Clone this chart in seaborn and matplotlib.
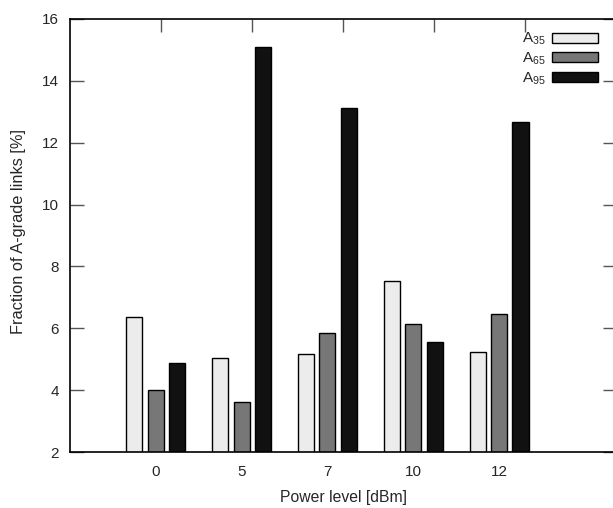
import matplotlib
matplotlib.use("Agg")
import matplotlib.pyplot as plt
import seaborn as sns
import pandas as pd
import numpy as np

power_levels = ["0", "5", "7", "10", "12"]
series_names = ["A$_{35}$", "A$_{65}$", "A$_{95}$"]
a35 = [6.36, 5.05, 5.18, 7.54, 5.23]
a65 = [3.99, 3.63, 5.85, 6.15, 6.46]
a95 = [4.87, 15.09, 13.12, 5.57, 12.67]
colors = ["#ececec", "#777777", "#111111"]

rows = []
for name, vals in zip(series_names, [a35, a65, a95]):
    for p, v in zip(power_levels, vals):
        rows.append({"power": p, "series": name, "value": v})
df = pd.DataFrame(rows)

sns.set_style("ticks")
plt.rcParams["font.family"] = ["Liberation Sans", "DejaVu Sans"]
plt.rcParams["mathtext.fontset"] = "custom"
plt.rcParams["mathtext.rm"] = "Liberation Sans"
plt.rcParams["mathtext.it"] = "Liberation Sans"

FS = 11
fig = plt.figure(figsize=(6.13, 5.08), dpi=100)
W, H = 613, 508
l, r, t, b = 70, 617, 19, 452
ax = fig.add_axes([l / W, 1 - b / H, (r - l) / W, (b - t) / H])

sns.barplot(data=df, x="power", y="value", hue="series", order=power_levels,
            hue_order=series_names, palette=colors, width=0.75, gap=0.25,
            edgecolor="black", linewidth=1.0, saturation=1, ax=ax)

ax.set_xlim(-1, 5.375)
ax.set_ylim(2, 16)
ax.set_yticks(np.arange(2, 17, 2))
ax.tick_params(axis="y", direction="in", length=10, width=1, color="#555555",
               left=True, right=True, labelsize=FS, pad=8)
ax.tick_params(axis="x", direction="in", length=0, labelsize=FS, pad=9)
for s in ax.spines.values():
    s.set_linewidth(1.2)
    s.set_color("black")

# mirrored top ticks
sec = ax.secondary_xaxis("top")
sec.set_xticks([0.066 + 1.06 * i for i in range(5)])
sec.set_xticklabels([])
sec.tick_params(direction="in", length=9, width=1, color="#555555")
sec.spines["top"].set_visible(False)

ax.set_xlabel("Power level [dBm]", fontsize=11.3, labelpad=8)
ax.set_ylabel("Fraction of A-grade links [%]", fontsize=11.8)
ax.yaxis.set_label_coords(-0.08, 0.51)

leg = ax.legend(loc="upper right", bbox_to_anchor=(598 / W, 1 - 31 / H),
                bbox_transform=fig.transFigure, frameon=False, fontsize=FS,
                markerfirst=False, handlelength=3.0, handleheight=0.65,
                handletextpad=0.4, labelspacing=0.22, borderpad=0, borderaxespad=0)
for txt in leg.get_texts():
    txt.set_ha("right")

fig.savefig("out.png", dpi=100)
